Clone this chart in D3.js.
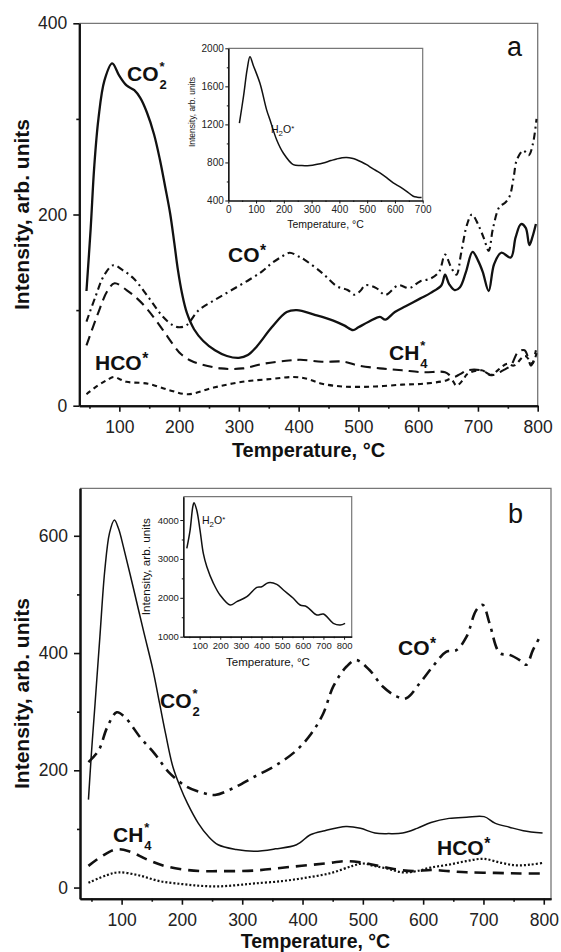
<!DOCTYPE html>
<html><head><meta charset="utf-8">
<script src="https://cdn.jsdelivr.net/npm/d3@7"></script>
<style>body{margin:0;background:#fff}svg{display:block;font-family:"Liberation Sans",Arial,sans-serif}</style>
</head><body>
<svg id="c" width="561" height="952"></svg>
<script>
// ---------------- DATA ----------------
// Panel a : main
const aXTicks=[100,200,300,400,500,600,700,800];
const aXMinor=[50,150,250,350,450,550,650,750];
const aYTicks=[0,200,400];
const aYMinor=[100,300];
const aCO2=[[45,120],[52,185],[58,250],[65,300],[75,340],[88,358],[100,345],[112,335],[125,330],[135,322],[146,307],[158,284],[168,257],[177,228],[185,201],[192,170],[198,142],[205,117],[213,97],[225,80],[240,68],[260,58],[280,52],[300,50],[315,53],[330,62],[355,82],[380,98],[397,100],[427,95],[458,89],[476,84],[491,79],[500,82],[518,88],[536,93],[545,90],[561,98],[579,104],[603,112],[621,118],[639,126],[645,137],[652,127],[661,121],[670,124],[680,140],[691,161],[700,152],[708,140],[718,120],[727,148],[739,160],[755,155],[763,176],[772,190],[780,186],[786,168],[791,176],[797,190]];
const aCO=[[45,88],[60,114],[75,137],[90,147],[105,142],[124,133],[148,114],[173,93],[190,84],[200,82],[212,84],[233,100],[258,110],[288,121],[318,132],[340,141],[355,149],[372,156],[385,160],[400,156],[409,153],[439,139],[464,125],[482,121],[494,116],[503,120],[512,126],[530,123],[545,116],[567,126],[585,123],[603,130],[621,133],[635,140],[645,158],[655,145],[664,137],[672,160],[682,190],[690,200],[700,190],[710,175],[718,162],[725,185],[736,208],[745,212],[753,219],[760,240],[765,257],[776,267],[785,262],[792,274],[798,300]];
const aCH4=[[45,63],[64,96],[80,120],[92,128],[112,121],[130,112],[148,100],[173,79],[190,64],[203,54],[220,47],[233,44],[270,39],[306,39],[342,44],[379,47],[403,48],[439,46],[476,46],[500,42],[536,39],[573,37],[609,35],[645,35],[658,30],[670,33],[682,37],[706,37],[724,32],[742,37],[755,42],[767,56],[778,58],[789,42],[797,58]];
const aHCO=[[45,12],[64,21],[80,27],[91,30],[100,28],[112,25],[148,23],[185,16],[215,12],[258,19],[306,25],[355,28],[391,30],[415,28],[439,23],[476,20],[524,20],[573,22],[609,23],[645,26],[655,28],[664,21],[675,27],[682,33],[706,37],[722,32],[733,37],[749,44],[760,42],[779,52],[791,44],[798,55]];
// Panel a : inset
const aInXTicks=[0,100,200,300,400,500,600,700];
const aInYTicks=[400,800,1200,1600,2000];
const aH2O=[[40,1214],[55,1500],[68,1780],[78,1911],[90,1820],[114,1632],[138,1353],[150,1248],[174,1039],[198,899],[234,777],[265,768],[294,767],[320,780],[342,795],[370,820],[390,837],[410,850],[426,853],[445,845],[462,829],[480,805],[498,777],[520,735],[546,690],[570,640],[594,585],[620,540],[642,497],[666,445],[680,435],[696,432]];
// Panel b : main
const bXTicks=[100,200,300,400,500,600,700,800];
const bXMinor=[50,150,250,350,450,550,650,750];
const bYTicks=[0,200,400,600];
const bYMinor=[100,300,500];
const bCO2=[[45,150],[50,230],[56,314],[64,428],[72,540],[80,605],[88,627],[95,612],[103,581],[119,513],[136,439],[152,371],[163,314],[173,262],[185,206],[197,172],[209,144],[227,110],[244,87],[260,73],[290,65],[320,62],[355,66],[390,73],[413,90],[437,97],[472,104],[496,101],[520,93],[543,92],[566,93],[590,101],[613,111],[643,118],[672,120],[701,121],[719,110],[743,103],[766,97],[798,93]];
const bCO=[[45,214],[62,234],[76,273],[92,299],[106,290],[131,256],[155,228],[178,197],[208,172],[237,161],[255,158],[284,169],[320,189],[355,208],[390,234],[414,262],[434,296],[451,343],[473,377],[489,388],[511,371],[533,343],[556,326],[572,323],[594,348],[616,377],[638,402],[655,405],[672,428],[688,473],[699,482],[710,451],[727,400],[743,397],[760,388],[771,380],[782,405],[795,430]];
const bCH4=[[45,37],[68,54],[90,65],[112,62],[142,48],[171,37],[201,31],[231,28],[260,28],[320,29],[378,35],[437,41],[472,45],[496,43],[526,37],[555,31],[584,28],[613,30],[643,28],[672,26],[719,25],[761,24],[798,24]];
const bHCO=[[45,8],[75,21],[95,26],[128,21],[163,11],[200,6],[230,3],[260,2],[290,4],[320,7],[366,11],[407,17],[448,25],[483,37],[500,41],[518,37],[542,32],[565,26],[589,28],[612,34],[642,39],[671,45],[700,49],[730,42],[754,38],[777,39],[798,42]];
// Panel b : inset
const bInXTicks=[100,200,300,400,500,600,700,800];
const bInYTicks=[1000,2000,3000,4000];
const bH2O=[[38,3272],[54,3743],[67,4342],[73,4445],[86,4257],[102,3743],[118,3144],[135,2800],[167,2373],[199,2072],[248,1815],[280,1900],[329,2028],[377,2270],[401,2285],[433,2388],[474,2347],[506,2200],[554,1987],[587,1815],[619,1771],[668,1558],[700,1583],[748,1344],[781,1301],[805,1344]];

// ---------------- DRAWING ----------------
const svg=d3.select('#c');
svg.append('rect').attr('width',561).attr('height',952).attr('fill','#fff');

function panel(o){
  const x=d3.scaleLinear().domain(o.xd).range([o.l,o.r]);
  const y=d3.scaleLinear().domain(o.yd).range([o.b,o.t]);
  const g=svg.append('g');
  if(o.fill) g.append('rect').attr('x',o.l).attr('y',o.t).attr('width',o.r-o.l).attr('height',o.b-o.t).attr('fill','#fff');
  g.append('path').attr('d',`M${o.l},${o.t}H${o.r}V${o.b}`).attr('fill','none').attr('stroke',o.frame).attr('stroke-width',o.fw);
  const line=d3.line().x(d=>x(d[0])).y(d=>y(d[1])).curve(d3.curveCatmullRom.alpha(0.5));
  (o.series||[]).forEach(s=>{
    g.append('path').datum(s.d).attr('d',line).attr('fill','none').attr('stroke','#111')
     .attr('stroke-width',s.w).attr('stroke-dasharray',s.dash||null).attr('stroke-linejoin','round').attr('stroke-linecap','butt');
  });
  const fmt=d3.format('d');
  g.append('g').attr('transform',`translate(0,${o.b})`)
    .call(d3.axisBottom(x).tickValues(o.xt).tickSize(o.ts).tickPadding(o.tpx).tickSizeOuter(0).tickFormat(fmt));
  if(o.xm) g.append('g').attr('transform',`translate(0,${o.b})`)
    .call(d3.axisBottom(x).tickValues(o.xm).tickSize(o.tsm).tickSizeOuter(0).tickFormat(''));
  g.append('g').attr('transform',`translate(${o.l},0)`)
    .call(d3.axisLeft(y).tickValues(o.yt).tickSize(o.ts).tickPadding(o.tpy).tickSizeOuter(0).tickFormat(fmt));
  if(o.ym) g.append('g').attr('transform',`translate(${o.l},0)`)
    .call(d3.axisLeft(y).tickValues(o.ym).tickSize(o.tsm).tickSizeOuter(0).tickFormat(''));
  g.selectAll('.domain').attr('stroke','#111').attr('stroke-width',o.aw);
  g.selectAll('.tick line').attr('stroke','#111').attr('stroke-width',o.tw);
  g.selectAll('.tick text').attr('fill','#222').attr('font-size',o.tf)
    .attr('font-family','"Liberation Sans",Arial,sans-serif');
  return {x,y,g};
}

// species label: star superscript stacked over the subscript, boxes kept apart
function lab(x,y,base,sub,sup,fs){
  const t=svg.append('text').attr('x',x).attr('y',y).attr('font-size',fs).attr('font-weight','bold').attr('fill','#111');
  const b=t.append('tspan').text(base);
  const w=b.node().getComputedTextLength();
  const s=fs*0.62;
  if(sub){
    t.append('tspan').attr('x',x+w+1).attr('y',y-fs*0.47).attr('font-size',s).text(sup);
    t.append('tspan').attr('x',x+w+1).attr('y',y+fs*0.36).attr('font-size',s).text(sub);
  } else {
    t.append('tspan').attr('x',x+w+0.5).attr('y',y-fs*0.3).attr('font-size',fs*0.75).text(sup);
  }
}
function title(x,y,txt,fs,rot,bold,len){
  const t=svg.append('text').attr('text-anchor','middle').attr('font-size',fs).attr('fill','#111')
    .attr('font-weight',bold?'bold':'normal').text(txt);
  if(rot) t.attr('transform',`translate(${x},${y}) rotate(-90)`); else t.attr('x',x).attr('y',y);
  if(len) t.attr('textLength',len).attr('lengthAdjust','spacingAndGlyphs');
}
function h2o(x,y,fs){
  const t=svg.append('text').attr('x',x).attr('y',y).attr('font-size',fs).attr('fill','#111');
  t.append('tspan').text('H');
  t.append('tspan').attr('dy',fs*0.3).attr('font-size',fs*0.75).text('2');
  t.append('tspan').attr('dy',-fs*0.3).text('O');
  t.append('tspan').attr('dy',-fs*0.2).attr('font-size',fs*0.75).text('*');
}

// ---- Panel a ----
panel({l:79.3,r:537.7,t:23.3,b:405.7,xd:[33,800],yd:[0,400],
  xt:aXTicks,xm:aXMinor,yt:aYTicks,ym:aYMinor,ts:6,tsm:3,tpx:9,tpy:6,tf:17.5,aw:2,tw:1.6,frame:'#777',fw:1.3,
  series:[
    {d:aCO2,w:2.3},
    {d:aCO,w:2.1,dash:'7,4,2,4'},
    {d:aCH4,w:2.1,dash:'10,6'},
    {d:aHCO,w:2.1,dash:'5,4'}
  ]});
panel({l:228.3,r:422.7,t:48.3,b:200.5,xd:[0,700],yd:[400,2000],fill:true,
  xt:aInXTicks,xm:[50,150,250,350,450,550,650],yt:aInYTicks,ym:[600,1000,1400,1800],ts:3,tsm:1.5,tpx:2.5,tpy:1.5,tf:10,aw:1.2,tw:1,frame:'#777',fw:1.2,
  series:[{d:aH2O,w:1.5}]});
h2o(271,133,10.5);
title(325.5,228,'Temperature, °C',10.5,false,false);
title(195,112,'Intensity, arb. units',9.5,true,false,70);
lab(127,81,'CO','2','*',21);
lab(228,262,'CO',null,'*',21);
lab(95,370,'HCO',null,'*',21);
lab(389,360,'CH','4','*',21);
svg.append('text').attr('x',507).attr('y',56).attr('font-size',27).attr('fill','#111').text('a');
title(308.5,457,'Temperature, °C',20,false,true);
title(29,214.5,'Intensity, arb. units',21,true,true);

// ---- Panel b ----
panel({l:80,r:551,t:488.3,b:898.7,xd:[31,812],yd:[-19,681],
  xt:bXTicks,xm:bXMinor,yt:bYTicks,ym:bYMinor,ts:6,tsm:3,tpx:8.5,tpy:6,tf:17.5,aw:2,tw:1.6,frame:'#777',fw:1.3,
  series:[
    {d:bCO2,w:1.5},
    {d:bCO,w:2.6,dash:'12,6,3,6'},
    {d:bCH4,w:2.6,dash:'11,7'},
    {d:bHCO,w:2.2,dash:'2,2'}
  ]});
panel({l:183.3,r:351.7,t:496.7,b:636.7,xd:[21,837],yd:[1000,4600],fill:true,
  xt:bInXTicks,xm:[50,150,250,350,450,550,650,750],yt:bInYTicks,ym:[1500,2500,3500],ts:3,tsm:1.5,tpx:3,tpy:1.5,tf:9.5,aw:1.2,tw:1,frame:'#777',fw:1.2,
  series:[{d:bH2O,w:1.5}]});
h2o(202,524,10.5);
title(268,665.5,'Temperature, °C',11.5,false,false);
title(150,566.7,'Intensity, arb. units',10.5,true,false,97);
lab(160,708,'CO','2','*',21);
lab(398,655,'CO',null,'*',21);
lab(113,842,'CH','4','*',21);
lab(437,855,'HCO',null,'*',21);
svg.append('text').attr('x',508).attr('y',523).attr('font-size',27).attr('fill','#111').text('b');
title(315.5,948.3,'Temperature, °C',19.5,false,true);
title(29,693.5,'Intensity, arb. units',21,true,true);
</script>
</body></html>
